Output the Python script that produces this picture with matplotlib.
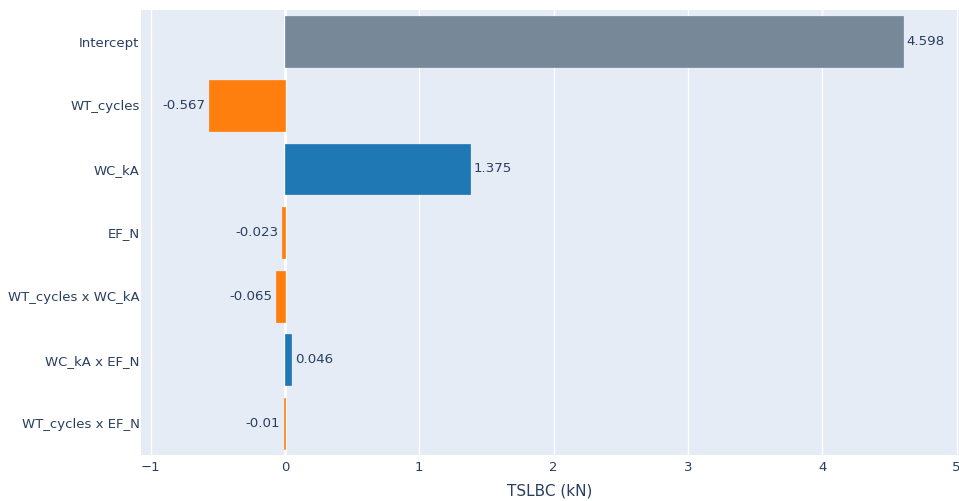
import matplotlib.pyplot as plt

plt.rcParams["font.family"] = ["DejaVu Sans"]

# model terms and their coefficients (top to bottom)
terms = ["Intercept", "WT_cycles", "WC_kA", "EF_N",
         "WT_cycles x WC_kA", "WC_kA x EF_N", "WT_cycles x EF_N"]
coefs = [4.598, -0.567, 1.375, -0.023, -0.065, 0.046, -0.01]

GRAY = "#778899"
POS = "#1f77b4"
NEG = "#ff7f0e"
TXT = "#2a3f5f"

colors = []
for t, c in zip(terms, coefs):
    if t == "Intercept":
        colors.append(GRAY)
    elif c >= 0:
        colors.append(POS)
    else:
        colors.append(NEG)

fig = plt.figure(figsize=(9.59, 5.01), dpi=100)
ax = fig.add_axes([141 / 959, 1 - 455 / 501, 818 / 959, 445 / 501])
ax.set_facecolor("#E5ECF6")

ypos = list(range(len(terms)))
ax.barh(ypos, coefs, height=0.8, color=colors, zorder=3,
        edgecolor=colors, linewidth=0.5)

for yi, c in zip(ypos, coefs):
    ha = "left" if c >= 0 else "right"
    off = 2.5 if c >= 0 else -2.5
    ax.annotate(f"{c:g}", (c, yi), xytext=(off, 0), textcoords="offset points",
                ha=ha, va="center", fontsize=9.6, color=TXT, zorder=4)

ax.set_xlim(-1.072, 5.018)
ax.set_ylim(len(terms) - 0.5, -0.5)
ax.set_yticks(ypos)
ax.set_yticklabels(terms)
ax.set_xticks(range(-1, 6))
ax.set_xticklabels(["\u22121", "0", "1", "2", "3", "4", "5"])

ax.grid(axis="x", color="white", linewidth=1, zorder=1)
ax.axvline(0, color="white", linewidth=2, zorder=2)
for s in ax.spines.values():
    s.set_visible(False)
ax.tick_params(length=0, labelsize=9.5, colors=TXT)
ax.tick_params(axis="y", pad=1)
ax.tick_params(axis="x", pad=4)

ax.set_xlabel("TSLBC (kN)", fontsize=11, color=TXT, labelpad=7)

fig.savefig("out.png", dpi=100)
